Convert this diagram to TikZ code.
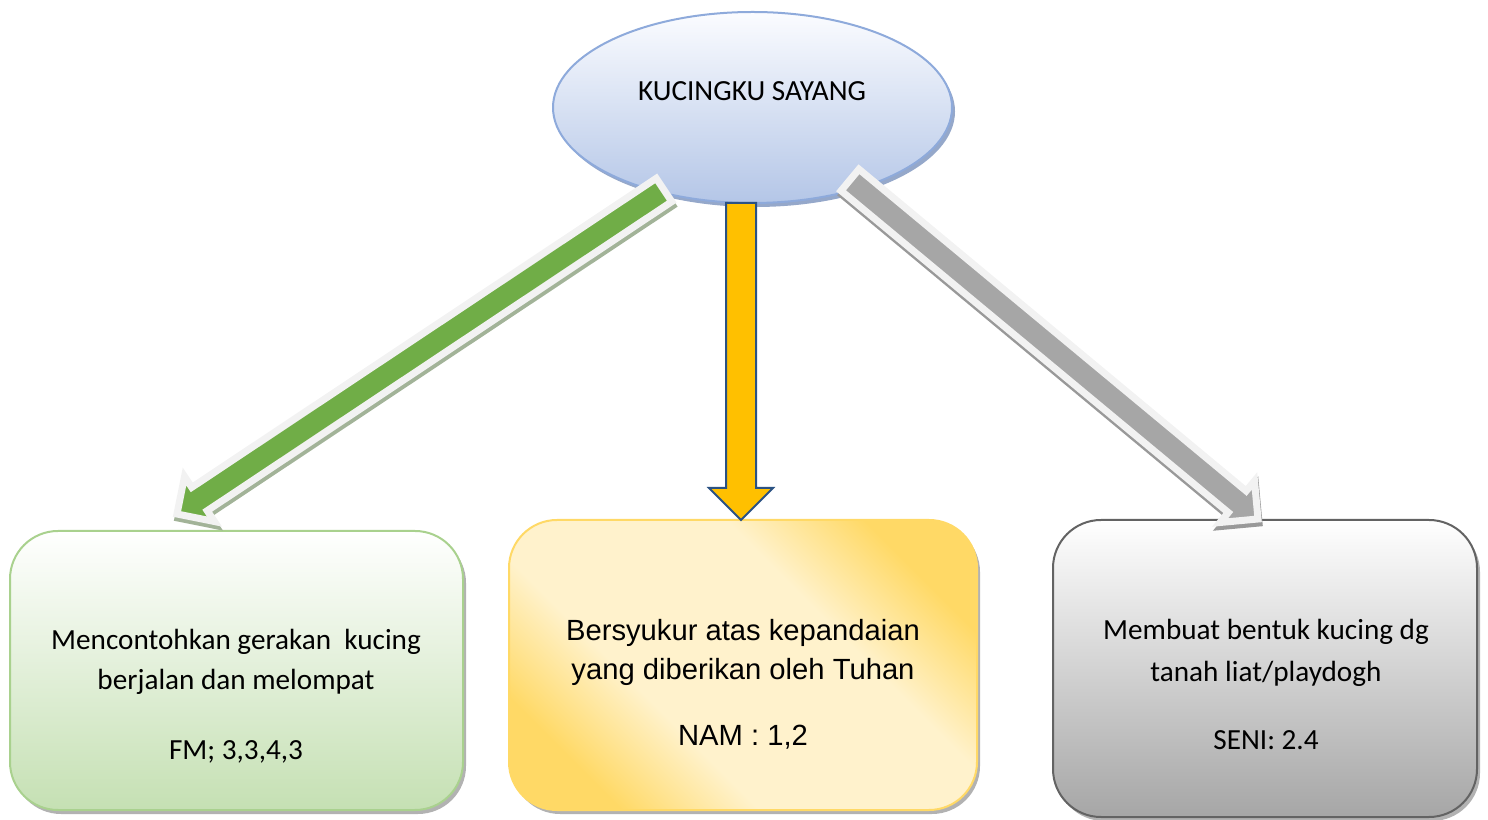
\documentclass[tikz,border=0pt]{standalone}
\usepackage{fontspec}
\usetikzlibrary{shapes.geometric,calc,shadows}
\newfontfamily\calfont{Carlito}
\newfontfamily\arialfont{Liberation Sans}
\definecolor{ellTop}{HTML}{FBFCFF}
\definecolor{ellBot}{HTML}{B4C6E7}
\definecolor{ellLine}{HTML}{8EAADB}
\definecolor{ellShadow}{HTML}{8A9EC4}
\definecolor{gLine}{HTML}{A9D18E}
\definecolor{gBot}{HTML}{C5E0B3}
\definecolor{yLine}{HTML}{FFD966}
\definecolor{yDark}{HTML}{FFD966}
\definecolor{yLight}{HTML}{FFF2CC}
\definecolor{grLine}{HTML}{636363}
\definecolor{grBot}{HTML}{A6A6A6}
\definecolor{arrGreen}{HTML}{70AD47}
\definecolor{arrGray}{HTML}{A6A6A6}
\definecolor{arrEdge}{HTML}{F2F2F2}
\definecolor{shGreen}{HTML}{A2B398}
\definecolor{shGray}{HTML}{999999}
\definecolor{arrYellow}{HTML}{FFC000}
\definecolor{arrBlue}{HTML}{2B5283}
\pgfdeclareverticalshading{yshade}{100bp}{color(0bp)=(yDark); color(25bp)=(yDark); color(38bp)=(yLight); color(62bp)=(yLight); color(75bp)=(yDark); color(100bp)=(yDark)}
\newcommand{\bapath}[5]{($(#1)!#4!90:(#2)$) -- ($(#3)!#4!90:(#2)$) -- ($(#3)!#5!90:(#2)$) -- (#2) -- ($(#3)!#5!-90:(#2)$) -- ($(#3)!#4!-90:(#2)$) -- ($(#1)!#4!-90:(#2)$) -- cycle}
\tikzset{
  boxshadow/.style={drop shadow={shadow xshift=1.5pt, shadow yshift=-2pt, opacity=0.3, fill=black}},
  roundbox/.style={rectangle, rounded corners=24pt, inner sep=0pt, line width=1pt, boxshadow},
  caltext/.style={anchor=base, inner sep=0pt, font=\calfont\fontsize{14.6}{17}\selectfont},
  arialtext/.style={anchor=base, inner sep=0pt, font=\arialfont\fontsize{14.6}{17}\selectfont},
  whitearrow/.style={draw=arrEdge, line width=3.5pt, line join=miter},
  arrshadow/.style={line width=3.5pt, line join=miter, transform canvas={shift={(0.5pt,-2pt)}}},
  yarrow/.style={fill=arrYellow, draw=arrBlue, line width=1pt, line join=miter}
}
\begin{document}
\begin{tikzpicture}[x=0.5pt,y=0.5pt]
\useasboundingbox (0,0) rectangle (1488,819);

% central ellipse
\node[ellipse, minimum width=199.5pt, minimum height=95.5pt, inner sep=0pt,
      top color=ellTop, bottom color=ellBot, draw=ellLine, line width=1pt,
      drop shadow={shadow xshift=1.5pt, shadow yshift=-2pt, opacity=0.9, fill=ellShadow}]
      (top) at (752.5,711.5) {};
\node[caltext] (toptext) at (752,718) {KUCINGKU SAYANG};

% boxes
\node[roundbox, minimum width=226.5pt, minimum height=139.5pt, draw=gLine,
      top color=white, bottom color=gBot] (gbox) at (236.5,148.5) {};
\node[roundbox, minimum width=234pt, minimum height=145pt, draw=yLine,
      shading=yshade, shading angle=-45] (ybox) at (743,154) {};
\node[roundbox, minimum width=212pt, minimum height=148.5pt, draw=grLine,
      top color=white, bottom color=grBot] (grbox) at (1265,150.5) {};

% box texts
\node[caltext] (g1) at (236,169) {Mencontohkan gerakan\ \ kucing};
\node[caltext] (g2) at (236,129) {berjalan dan melompat};
\node[caltext] (g3) at (236,60) {FM; 3,3,4,3};

\node[arialtext] (y1) at (743,178) {Bersyukur atas kepandaian};
\node[arialtext] (y2) at (743,139) {yang diberikan oleh Tuhan};
\node[arialtext] (y3) at (743,73) {NAM : 1,2};

\node[caltext] (r1) at (1266,179) {Membuat bentuk kucing dg};
\node[caltext] (r2) at (1266,137) {tanah liat/playdogh};
\node[caltext] (r3) at (1266,69) {SENI: 2.4};

% arrow coordinates
\coordinate (gT) at (664,629);
\coordinate (gH) at (177,305);
\coordinate (gB) at ($(gH)!13.5pt!(gT)$);
\coordinate (rT) at (850,639);
\coordinate (rH) at (1258,300);
\coordinate (rB) at ($(rH)!13.5pt!(rT)$);
\coordinate (yT) at (741,616);
\coordinate (yH) at (741,299);
\coordinate (yB) at ($(yH)!16pt!(yT)$);

% green arrow
\filldraw[arrshadow, fill=shGreen, draw=shGreen] \bapath{gT}{gH}{gB}{7pt}{13.5pt};
\filldraw[whitearrow, fill=arrGreen] \bapath{gT}{gH}{gB}{7pt}{13.5pt};

% gray arrow
\filldraw[arrshadow, fill=shGray, draw=shGray] \bapath{rT}{rH}{rB}{7pt}{13.5pt};
\filldraw[whitearrow, fill=arrGray] \bapath{rT}{rH}{rB}{7pt}{13.5pt};

% yellow arrow
\filldraw[yarrow] \bapath{yT}{yH}{yB}{7.5pt}{16pt};
\end{tikzpicture}
\end{document}
